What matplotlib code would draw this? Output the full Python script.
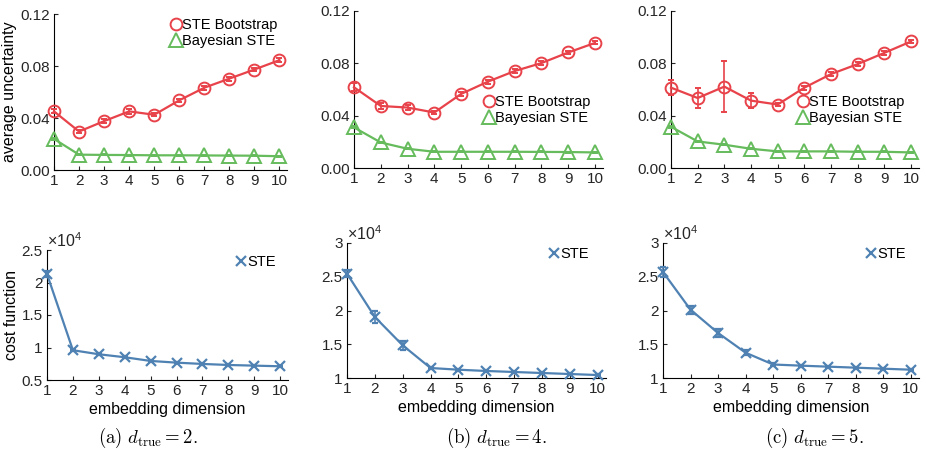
import matplotlib
matplotlib.use("Agg")
import matplotlib.pyplot as plt
from matplotlib.lines import Line2D
import numpy as np

plt.rcParams['font.family'] = ['Liberation Sans', 'DejaVu Sans']
plt.rcParams['mathtext.fontset'] = 'custom'
plt.rcParams['mathtext.rm'] = 'Liberation Sans'
plt.rcParams['mathtext.it'] = 'Liberation Sans:italic'

dims = list(range(1, 11))

# Top row: average uncertainty
boot_a = [0.0451, 0.0296, 0.0376, 0.0451, 0.0425, 0.0536, 0.0633, 0.0703, 0.0773, 0.0845]
boot_a_err = [0.0015, 0.0012, 0.0015, 0.0018, 0.0010, 0.0012, 0.0015, 0.0015, 0.0015, 0.0018]
bayes_a = [0.0239, 0.0118, 0.0116, 0.0115, 0.0113, 0.0113, 0.0112, 0.0111, 0.0110, 0.0106]
bayes_a_err = [0.0008, 0.0004, 0.0004, 0.0004, 0.0004, 0.0004, 0.0004, 0.0004, 0.0004, 0.0004]

boot_b = [0.0617, 0.0474, 0.0462, 0.0424, 0.0566, 0.0660, 0.0741, 0.0802, 0.0883, 0.0956]
boot_b_err = [0.0030, 0.0020, 0.0022, 0.0010, 0.0015, 0.0015, 0.0015, 0.0015, 0.0015, 0.0012]
bayes_b = [0.0310, 0.0195, 0.0147, 0.0124, 0.0124, 0.0124, 0.0124, 0.0123, 0.0122, 0.0119]
bayes_b_err = [0.0008, 0.0005, 0.0004, 0.0004, 0.0004, 0.0004, 0.0004, 0.0004, 0.0004, 0.0004]

boot_c = [0.0614, 0.0535, 0.0622, 0.0515, 0.0485, 0.0614, 0.0718, 0.0794, 0.0880, 0.0967]
boot_c_err = [0.0055, 0.0080, 0.0196, 0.0060, 0.0012, 0.0015, 0.0012, 0.0015, 0.0015, 0.0012]
bayes_c = [0.0315, 0.0203, 0.0178, 0.0147, 0.0127, 0.0127, 0.0127, 0.0124, 0.0124, 0.0119]
bayes_c_err = [0.0008, 0.0005, 0.0005, 0.0004, 0.0004, 0.0004, 0.0004, 0.0004, 0.0004, 0.0004]

# Bottom row: cost function (x 10^4)
cost_a = [2.13, 0.958, 0.896, 0.850, 0.793, 0.767, 0.747, 0.731, 0.721, 0.711]
cost_a_err = [0.04, 0.015, 0.012, 0.012, 0.010, 0.010, 0.010, 0.010, 0.010, 0.010]
cost_b = [2.546, 1.904, 1.484, 1.148, 1.123, 1.104, 1.089, 1.074, 1.059, 1.044]
cost_b_err = [0.05, 0.084, 0.07, 0.02, 0.015, 0.015, 0.015, 0.015, 0.015, 0.015]
cost_c = [2.57, 2.012, 1.667, 1.375, 1.200, 1.183, 1.168, 1.153, 1.138, 1.123]
cost_c_err = [0.07, 0.06, 0.06, 0.04, 0.015, 0.015, 0.015, 0.015, 0.015, 0.015]

captions = [r'$\mathrm{(a)}\ d_{\mathrm{true}} = 2.$',
            r'$\mathrm{(b)}\ d_{\mathrm{true}} = 4.$',
            r'$\mathrm{(c)}\ d_{\mathrm{true}} = 5.$']

RED = '#E8424A'
GREEN = '#66BB5C'
BLUE = '#4F82B3'

W, H = 926, 454
fig = plt.figure(figsize=(W / 100, H / 100), dpi=100)


def add_ax(l, r, t, b):
    return fig.add_axes([l / W, 1 - b / H, (r - l) / W, (b - t) / H])


def style(ax):
    for s in ['top', 'right']:
        ax.spines[s].set_visible(False)
    ax.spines['left'].set_linewidth(0.8)
    ax.spines['bottom'].set_linewidth(0.8)
    ax.tick_params(direction='in', length=3, width=0.8, labelsize=11, colors='#262626', pad=3)
    ax.set_xticks(dims)
    ax.set_xlim(1, 10.3)


top_boxes = [(54, 287, 14, 170), (354, 603, 11, 168), (671, 919, 11, 168)]
bot_boxes = [(47, 288, 250, 380), (347, 606, 243, 378), (663, 919, 243, 378)]
top_data = [(boot_a, boot_a_err, bayes_a, bayes_a_err),
            (boot_b, boot_b_err, bayes_b, bayes_b_err),
            (boot_c, boot_c_err, bayes_c, bayes_c_err)]
bot_data = [(cost_a, cost_a_err), (cost_b, cost_b_err), (cost_c, cost_c_err)]
top_leg = [(170, 33), (483, 110), (797, 110)]
bot_leg = [(235, 262), (548, 254), (865, 254)]
bot_ylim = [(0.5, 2.5), (1, 3), (1, 3)]
bot_ticks = [[0.5, 1, 1.5, 2, 2.5], [1, 1.5, 2, 2.5, 3], [1, 1.5, 2, 2.5, 3]]
bot_ticklabels = [['0.5', '1', '1.5', '2', '2.5'], ['1', '1.5', '2', '2.5', '3'], ['1', '1.5', '2', '2.5', '3']]
cap_x = [148, 496, 814]

for i in range(3):
    ax = add_ax(*top_boxes[i])
    style(ax)
    boot, boot_err, bayes, bayes_err = top_data[i]
    h1 = ax.errorbar(dims, boot, yerr=boot_err, color=RED, marker='o', ms=8.5, mfc='none',
                     mew=1.4, lw=1.6, capsize=2.5, elinewidth=1.2, capthick=1.2,
                     label='STE Bootstrap', clip_on=False, zorder=3)
    h2 = ax.errorbar(dims, bayes, yerr=bayes_err, color=GREEN, marker='^', ms=10, mfc='none',
                     mew=1.4, lw=1.6, capsize=2.5, elinewidth=1.2, capthick=1.2,
                     label='Bayesian STE', clip_on=False, zorder=3)
    for art in list(h1.lines[1]) + list(h1.lines[2]) + list(h2.lines[1]) + list(h2.lines[2]):
        art.set_clip_on(False)
    ax.set_ylim(0, 0.12)
    ax.set_yticks([0, 0.04, 0.08, 0.12])
    ax.set_yticklabels(['0.00', '0.04', '0.08', '0.12'])
    if i == 0:
        ax.set_ylabel('average uncertainty', fontsize=11.5, labelpad=2)
    lh1 = Line2D([], [], color=RED, marker='o', ms=8.5, mfc='none', mew=1.4, ls='none')
    lh2 = Line2D([], [], color=GREEN, marker='^', ms=10, mfc='none', mew=1.4, ls='none')
    lx, ly = top_leg[i]
    ax.legend(handles=[lh1, lh2], labels=['STE Bootstrap', 'Bayesian STE'], loc='center left',
              bbox_to_anchor=(lx / W, 1 - ly / H), bbox_transform=fig.transFigure,
              frameon=False, fontsize=10.5, handlelength=0.8, handletextpad=0.05,
              labelspacing=0.15, borderpad=0, borderaxespad=0)

    ax2 = add_ax(*bot_boxes[i])
    style(ax2)
    cost, cost_err = bot_data[i]
    h3 = ax2.errorbar(dims, cost, yerr=cost_err, color=BLUE, marker='x', ms=7, mew=1.6,
                      lw=1.6, capsize=2.5, elinewidth=1.2, capthick=1.2, label='STE',
                      clip_on=False, zorder=3)
    for art in list(h3.lines[1]) + list(h3.lines[2]):
        art.set_clip_on(False)
    ax2.set_ylim(*bot_ylim[i])
    ax2.set_yticks(bot_ticks[i])
    ax2.set_yticklabels(bot_ticklabels[i])
    ax2.set_xlabel('embedding dimension', fontsize=11.5, labelpad=3)
    if i == 0:
        ax2.set_ylabel('cost function', fontsize=11.5, labelpad=2)
    ax2.text(0.0, 1.0, r'$\times10^4$', transform=ax2.transAxes, fontsize=11.5,
             color='#262626', ha='left', va='bottom')
    lh3 = Line2D([], [], color=BLUE, marker='x', ms=7, mew=1.6, ls='none')
    lx, ly = bot_leg[i]
    ax2.legend(handles=[lh3], labels=['STE'], loc='center left',
               bbox_to_anchor=(lx / W, 1 - ly / H), bbox_transform=fig.transFigure,
               frameon=False, fontsize=10.5, handlelength=0.8, handletextpad=0.05,
               borderpad=0, borderaxespad=0)

    fig.text(cap_x[i] / W, 1 - 438 / H, captions[i], ha='center', va='center',
             fontsize=13.5, math_fontfamily='cm')

fig.savefig('out.png', dpi=100)
